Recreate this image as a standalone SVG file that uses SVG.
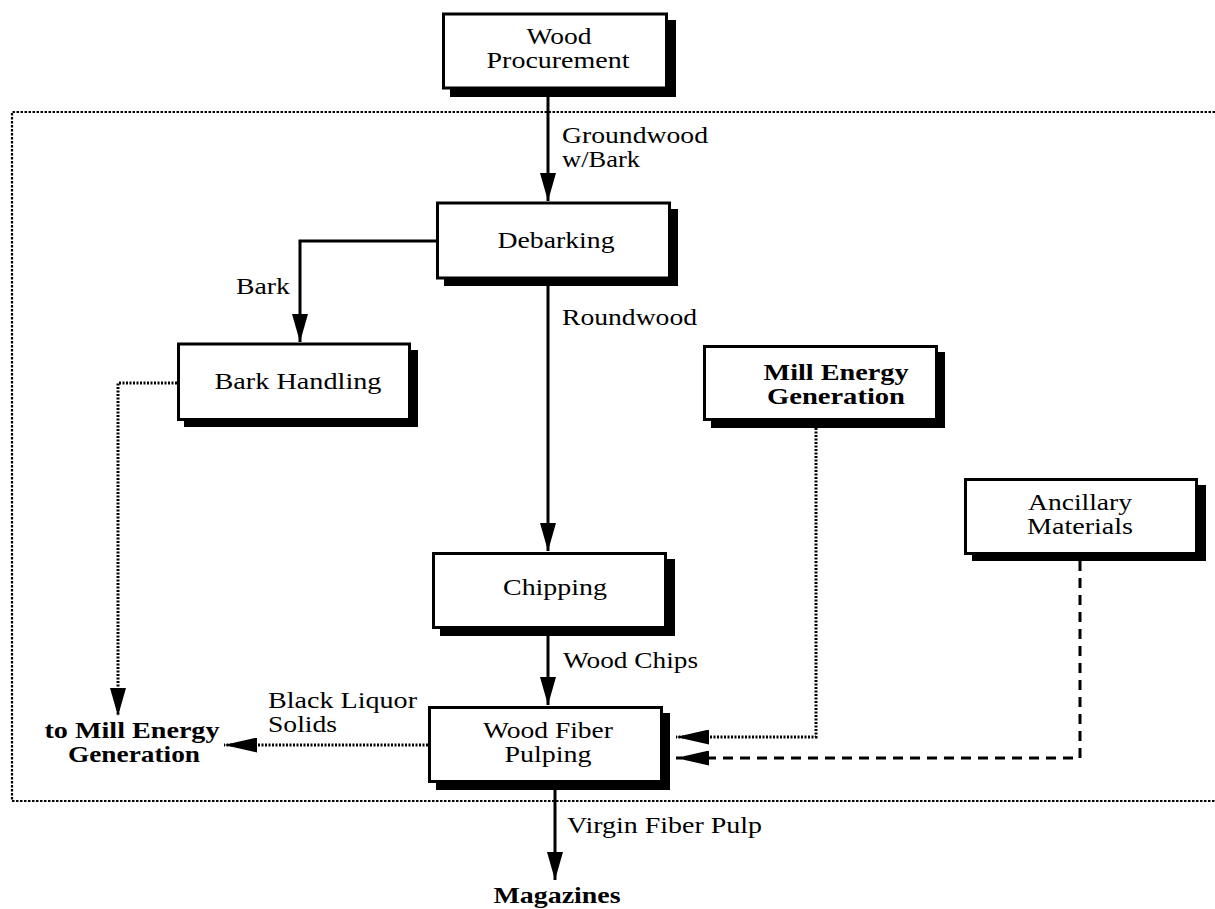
<svg xmlns="http://www.w3.org/2000/svg" width="1215" height="909" viewBox="0 0 1215 909">
  <style>
    .box { fill: #ffffff; stroke: #000000; stroke-width: 3; }
    .shadow { fill: #000000; }
    text { font-family: "Liberation Serif", "Times New Roman", serif; font-size: 24px; fill: #000000; }
    .c { text-anchor: middle; }
    .b { font-weight: bold; }
    .solid { fill: none; stroke: #000000; stroke-width: 3; }
    .dotted { fill: none; stroke: #000000; stroke-width: 3; stroke-dasharray: 2 1.5; }
    .dashed { fill: none; stroke: #000000; stroke-width: 3; stroke-dasharray: 10 7; }
    .boundary { fill: none; stroke: #000000; stroke-width: 2.2; stroke-dasharray: 2.5 1.5; }
  </style>
  <defs>
    <marker id="head" viewBox="0 0 28 16" markerWidth="28" markerHeight="16" refX="28" refY="8" orient="auto" markerUnits="userSpaceOnUse">
      <path d="M0,0 L28,8 L0,16 z" fill="#000000"/>
    </marker>
    <marker id="headLong" viewBox="0 0 33 15" markerWidth="33" markerHeight="15" refX="33" refY="7.5" orient="auto" markerUnits="userSpaceOnUse">
      <path d="M0,0 L33,7.5 L0,15 z" fill="#000000"/>
    </marker>
  </defs>

  <!-- system boundary -->
  <path class="boundary" d="M1215,112 H12 V801 H1215"/>

  <!-- connectors -->
  <g id="connectors">
    <path class="solid" d="M548,97 V201" marker-end="url(#head)"/>
    <path class="solid" d="M436,241 H300 V342" marker-end="url(#head)"/>
    <path class="solid" d="M548,286 V551" marker-end="url(#head)"/>
    <path class="solid" d="M548,636 V705" marker-end="url(#head)"/>
    <path class="solid" d="M555,790 V880" marker-end="url(#head)"/>
    <path class="dotted" d="M177,383 H118 V716" marker-end="url(#head)"/>
    <path class="dotted" d="M428,745 H224" marker-end="url(#headLong)"/>
    <path class="dotted" d="M816,428 V737 H676" marker-end="url(#headLong)"/>
    <path class="dashed" d="M1080,561 V758 H676" marker-end="url(#headLong)"/>

    <text x="562" y="143" textLength="146" lengthAdjust="spacingAndGlyphs">Groundwood</text>
    <text x="562" y="167" textLength="78" lengthAdjust="spacingAndGlyphs">w/Bark</text>
    <text x="236" y="294" textLength="54" lengthAdjust="spacingAndGlyphs">Bark</text>
    <text x="562" y="325" textLength="135" lengthAdjust="spacingAndGlyphs">Roundwood</text>
    <text x="563" y="668" textLength="135" lengthAdjust="spacingAndGlyphs">Wood Chips</text>
    <text x="268" y="708" textLength="149" lengthAdjust="spacingAndGlyphs">Black Liquor</text>
    <text x="268" y="732" textLength="69" lengthAdjust="spacingAndGlyphs">Solids</text>
    <text x="567" y="833" textLength="195" lengthAdjust="spacingAndGlyphs">Virgin Fiber Pulp</text>
  </g>

  <!-- process boxes -->
  <g id="wood-procurement">
    <rect class="shadow" x="450" y="20" width="226" height="77"/>
    <rect class="box" x="443.5" y="14" width="223" height="74"/>
    <text class="c" x="559" y="44" textLength="65" lengthAdjust="spacingAndGlyphs">Wood</text>
    <text class="c" x="558" y="68" textLength="143" lengthAdjust="spacingAndGlyphs">Procurement</text>
  </g>

  <g id="debarking">
    <rect class="shadow" x="444" y="209" width="234" height="77"/>
    <rect class="box" x="437.5" y="203" width="232" height="75"/>
    <text class="c" x="556" y="248" textLength="117" lengthAdjust="spacingAndGlyphs">Debarking</text>
  </g>

  <g id="bark-handling">
    <rect class="shadow" x="184" y="350" width="234" height="77"/>
    <rect class="box" x="178.5" y="344" width="231" height="75.5"/>
    <text class="c" x="298" y="389" textLength="167" lengthAdjust="spacingAndGlyphs">Bark Handling</text>
  </g>

  <g id="mill-energy-generation">
    <rect class="shadow" x="711" y="352" width="234" height="76"/>
    <rect class="box" x="704.5" y="346.5" width="232" height="73"/>
    <text class="c b" x="836" y="380" textLength="145" lengthAdjust="spacingAndGlyphs">Mill Energy</text>
    <text class="c b" x="836" y="404" textLength="138" lengthAdjust="spacingAndGlyphs">Generation</text>
  </g>

  <g id="ancillary-materials">
    <rect class="shadow" x="972" y="485" width="234" height="76"/>
    <rect class="box" x="965.5" y="479.5" width="231" height="74"/>
    <text class="c" x="1080" y="510" textLength="104" lengthAdjust="spacingAndGlyphs">Ancillary</text>
    <text class="c" x="1080" y="534" textLength="106" lengthAdjust="spacingAndGlyphs">Materials</text>
  </g>

  <g id="chipping">
    <rect class="shadow" x="440" y="559" width="235" height="77"/>
    <rect class="box" x="433.5" y="553.5" width="232" height="74"/>
    <text class="c" x="555" y="595" textLength="104" lengthAdjust="spacingAndGlyphs">Chipping</text>
  </g>

  <g id="wood-fiber-pulping">
    <rect class="shadow" x="436" y="713" width="234" height="77"/>
    <rect class="box" x="429.5" y="707.5" width="232" height="74"/>
    <text class="c" x="548" y="738" textLength="130" lengthAdjust="spacingAndGlyphs">Wood Fiber</text>
    <text class="c" x="548" y="762" textLength="87" lengthAdjust="spacingAndGlyphs">Pulping</text>
  </g>

  <!-- external destinations -->
  <g id="to-mill-energy">
    <text class="c b" x="132" y="738" textLength="175" lengthAdjust="spacingAndGlyphs">to Mill Energy</text>
    <text class="c b" x="134" y="762" textLength="132" lengthAdjust="spacingAndGlyphs">Generation</text>
  </g>

  <g id="magazines">
    <text class="c b" x="557" y="903" textLength="127" lengthAdjust="spacingAndGlyphs">Magazines</text>
  </g>
</svg>
